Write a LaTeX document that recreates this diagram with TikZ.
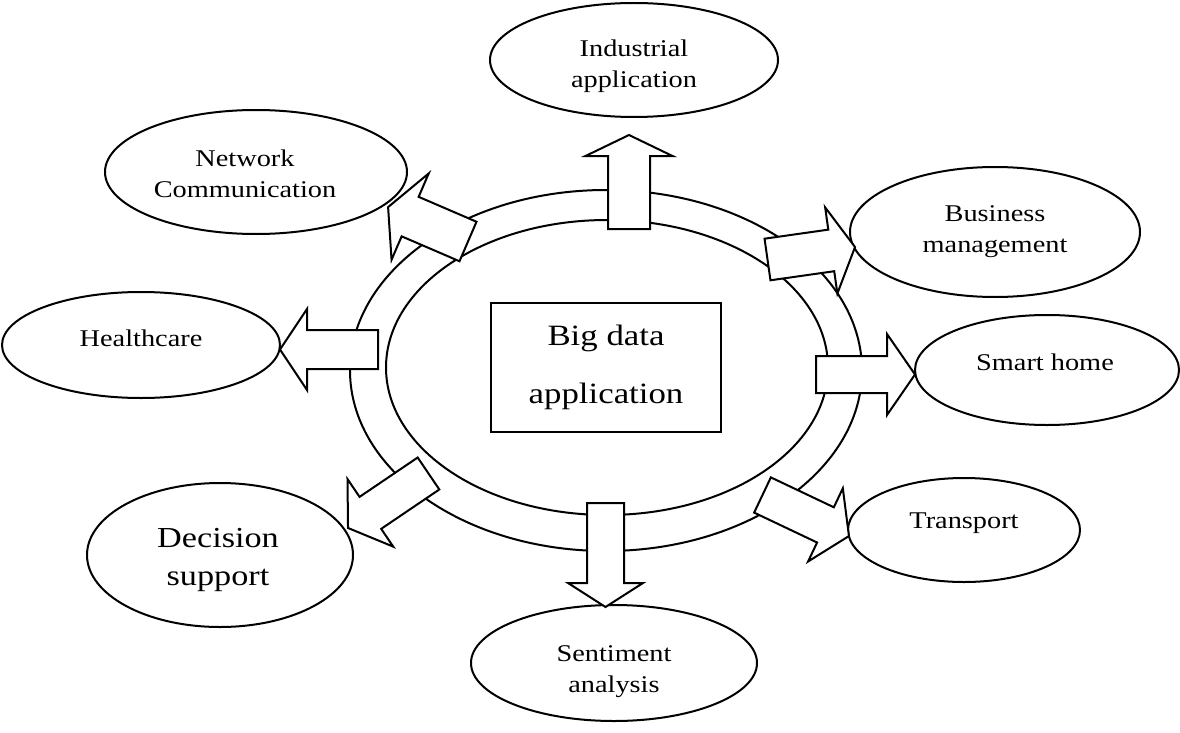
\documentclass[tikz,border=0pt]{standalone}
\usepackage{fontspec}
\setmainfont[FakeStretch=1.18]{Liberation Serif}
\usetikzlibrary{shapes.geometric}

\tikzset{
  ln/.style={line width=2pt},
  bub/.style={ellipse, draw, ln, inner sep=0pt},
  txt/.style={align=center, inner sep=0pt, font=\fontsize{24}{31}\selectfont},
  bigtxt/.style={txt, font=\fontsize{29}{38}\selectfont},
  ring/.style={ellipse, draw, ln, inner sep=0pt},
  centerbox/.style={rectangle, draw, ln, align=center, inner sep=0pt, font=\fontsize{29.5}{58}\selectfont},
  blockarr/.style={draw, ln, fill=white, line join=miter},
}

% #1,#2 tail centre (px), #3 angle (canvas), #4 length, #5 shaft half width,
% #6 head half width, #7 head length, #8 name
\newcommand{\blockarrow}[8]{%
  \begin{scope}[shift={(#1,#2)}, rotate=#3]
    \coordinate (#8-tail) at (0,0);
    \coordinate (#8-tip) at (#4,0);
    \draw[blockarr] (#8-tail) ++(0,-#5) -- ({#4-#7},-#5) -- ({#4-#7},-#6)
      -- (#8-tip) -- ({#4-#7},#6) -- ({#4-#7},#5) -- (0,#5) -- cycle;
  \end{scope}%
}

\begin{document}
\begin{tikzpicture}[x=1pt, y=-1pt]
  \useasboundingbox (0,0) rectangle (1180,733);

  % central rings and box
  \node[ring, minimum width=512pt, minimum height=361pt] (outer) at (606,370.5) {};
  \node[ring, minimum width=442pt, minimum height=295pt] (inner) at (607,367.5) {};
  \node[centerbox, minimum width=230pt, minimum height=129pt] (bigdata) at (606,367.5) {Big data\\application};

  % surrounding applications
  \node[bub, minimum width=288pt, minimum height=114pt] (industrial) at (634,60) {};
  \node[bub, minimum width=302pt, minimum height=124pt] (network) at (256,172) {};
  \node[bub, minimum width=290pt, minimum height=130pt] (business) at (995,232) {};
  \node[bub, minimum width=278pt, minimum height=106pt] (health) at (141,345) {};
  \node[bub, minimum width=264pt, minimum height=110pt] (smart) at (1047,370) {};
  \node[bub, minimum width=266pt, minimum height=144pt] (decision) at (220,555) {};
  \node[bub, minimum width=232pt, minimum height=104pt] (transport) at (964,530) {};
  \node[bub, minimum width=286pt, minimum height=116pt] (sentiment) at (614,663) {};

  \node[txt] (industrial-t) at (634,66.5) {Industrial\\application};
  \node[txt] (network-t) at (245,174) {Network\\Communication};
  \node[txt] (business-t) at (995,231.5) {Business\\management};
  \node[txt] (health-t) at (141,338) {Healthcare};
  \node[txt] (smart-t) at (1045,362) {Smart home};
  \node[bigtxt] (decision-t) at (218,559.5) {Decision\\support};
  \node[txt] (transport-t) at (964,523) {Transport};
  \node[txt] (sentiment-t) at (614,672) {Sentiment\\analysis};

  % block arrows
  \blockarrow{629}{229}{90}{94}{21}{43.5}{21}{aind}
  \blockarrow{605.5}{503}{-90}{104}{18.5}{37.5}{24}{asen}
  \blockarrow{378}{349.5}{180}{98}{19.5}{40.5}{27}{ahea}
  \blockarrow{816}{374.5}{0}{99}{18.5}{40.5}{28}{asma}
  \blockarrow{468}{241.5}{156.7}{87}{21.5}{47}{24}{anet}
  \blockarrow{767.5}{259.5}{8.1}{88.4}{21}{43.5}{24}{abus}
  \blockarrow{428.5}{473.5}{214.1}{97.2}{19.3}{40.8}{27}{adec}
  \blockarrow{762.5}{495}{-25.4}{95.7}{19.5}{40.5}{26}{atra}
\end{tikzpicture}
\end{document}
